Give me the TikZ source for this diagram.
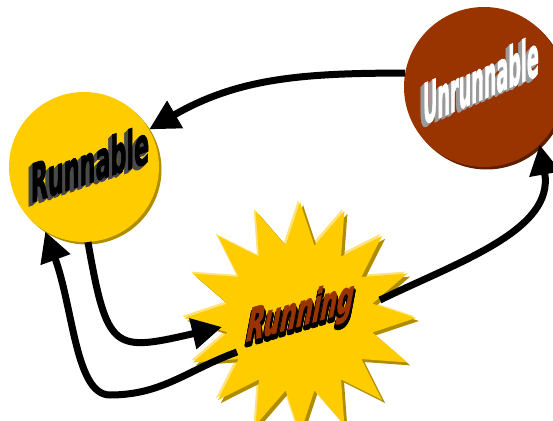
\documentclass[tikz,border=0pt]{standalone}
\usepackage{fontspec}
\setmainfont{Liberation Sans}
\newfontfamily\heavyfont{DejaVu Sans Bold}[FakeBold=2]
\usetikzlibrary{shapes.geometric, positioning, arrows.meta, calc, shadows}
\definecolor{gold}{HTML}{FFCC00}
\definecolor{darkgold}{HTML}{B08C00}
\definecolor{lightgold}{HTML}{FFE27A}
\definecolor{rust}{HTML}{993300}
\definecolor{darkrust}{HTML}{5A1E00}
\definecolor{extrude}{HTML}{4A4A4A}
\definecolor{lightextrude}{HTML}{9A9A9A}

\begin{document}
\begin{tikzpicture}[
x=1pt, y=1pt,
    state/.style={circle, inner sep=0pt},
    burst/.style={star, star points=16, star point ratio=1.57, inner sep=0pt, minimum size=232pt, fill=gold},
    runtext/.style={font=\fontsize{53}{53}\selectfont\heavyfont, inner sep=0pt, yslant=0.34, xscale=0.42},
    unruntext/.style={font=\fontsize{56}{56}\selectfont\heavyfont, inner sep=0pt, yslant=0.43, xscale=0.315},
    burstext/.style={font=\fontsize{44}{44}\selectfont\heavyfont, inner sep=0pt, yslant=0.29, xslant=0.2, xscale=0.52},
    line/.style={draw, line width=7pt, -{Triangle[length=30pt, width=30pt]}}
]
    \useasboundingbox (0,0) rectangle (553,420);

    % --- States ---
    \node[state, minimum size=150pt, fill=gold,
          drop shadow={fill=darkgold, opacity=1, shadow xshift=2.5pt, shadow yshift=-2.5pt}] (run) at (84,253) {};
    \node[state, minimum size=160pt, fill=rust,
          drop shadow={fill=darkrust, opacity=1, shadow xshift=2.5pt, shadow yshift=-2.5pt}] (unrun) at (484,333) {};
    \node[burst,
          general shadow={fill=lightgold, shadow xshift=-2pt, shadow yshift=2pt},
          drop shadow={fill=darkgold, opacity=1, shadow xshift=3pt, shadow yshift=-3pt}] (running) at (300,102) {};

    % --- Word art labels ---
    \foreach \d in {4,3,2,1}
        \node[runtext, text=extrude] (runshade\d) at ([shift={(6-\d,4-\d)}]run) {Runnable};
    \node[runtext, text=black] (runlabel) at ([shift={(6,4)}]run) {Runnable};

    \foreach \d in {4,3,2,1}
        \node[unruntext, text=lightextrude] (unrunshade\d) at ([shift={(-3-\d,8-\d)}]unrun) {Unrunnable};
    \node[unruntext, text=white] (unrunlabel) at ([shift={(-3,8)}]unrun) {Unrunnable};

    \foreach \a in {0,45,...,315}
        \node[burstext, text=black] (runningedge\a) at ([shift={(\a:1.5)}]running.center) {Running};
    \node[burstext, text=rust] (runninglabel) at ([shift={(0,4)}]running.center) {Running};

    % --- Transitions ---
    \coordinate (back) at (110,25);
    \draw[line] (unrun.170) to[out=180, in=30] (run.30);
    \draw[line] (run.-87) to[out=-80, in=193, looseness=1.8] ([shift={(-78,-9)}]running.center);
    \draw[line] ([shift={(-63,-34)}]running.center) to[out=200, in=0] (back)
        to[out=180, in=-70, out looseness=0.5, in looseness=1.2] (run.239);
    \draw[line] ([shift={(80,18)}]running.center) to[out=26, in=-80] (unrun.-46);

\end{tikzpicture}
\end{document}
